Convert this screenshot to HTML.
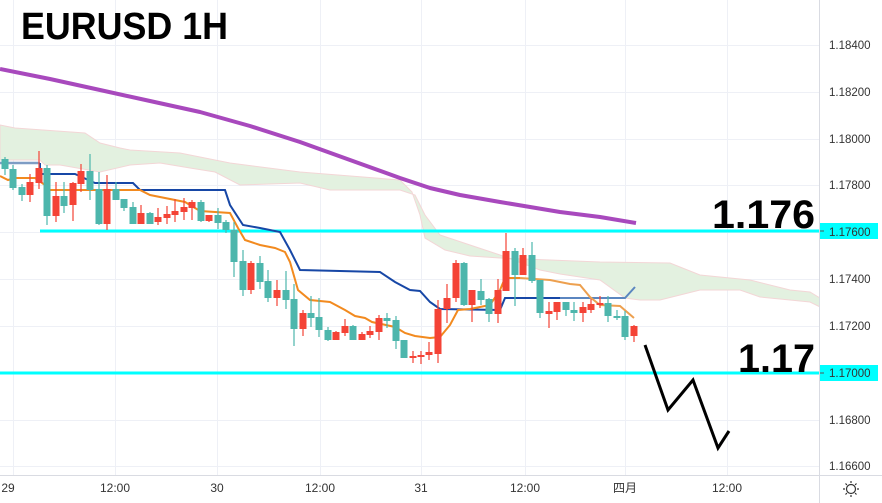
<!DOCTYPE html>
<html><head><meta charset="utf-8"><style>
html,body{margin:0;padding:0;background:#fff;width:882px;height:503px;overflow:hidden}
svg{display:block}
text{font-family:"Liberation Sans","Noto Sans CJK SC",sans-serif}
</style></head><body>
<svg id="s" width="882" height="503" viewBox="0 0 882 503" xmlns="http://www.w3.org/2000/svg">
<rect width="882" height="503" fill="#fff"/>
<g stroke="#eef0f6" stroke-width="1">
<line x1="0" y1="45.5" x2="819" y2="45.5"/><line x1="0" y1="92.5" x2="819" y2="92.5"/><line x1="0" y1="139.5" x2="819" y2="139.5"/><line x1="0" y1="185.5" x2="819" y2="185.5"/><line x1="0" y1="232.5" x2="819" y2="232.5"/><line x1="0" y1="279.5" x2="819" y2="279.5"/><line x1="0" y1="326.5" x2="819" y2="326.5"/><line x1="0" y1="373.5" x2="819" y2="373.5"/><line x1="0" y1="420.5" x2="819" y2="420.5"/><line x1="0" y1="466.5" x2="819" y2="466.5"/>
<line x1="13.5" y1="0" x2="13.5" y2="475"/><line x1="115.5" y1="0" x2="115.5" y2="475"/><line x1="217.5" y1="0" x2="217.5" y2="475"/><line x1="320.5" y1="0" x2="320.5" y2="475"/><line x1="421.5" y1="0" x2="421.5" y2="475"/><line x1="525.5" y1="0" x2="525.5" y2="475"/><line x1="625.5" y1="0" x2="625.5" y2="475"/><line x1="727.5" y1="0" x2="727.5" y2="475"/>
</g>
<polygon fill="#e3f1e0" stroke="#f3d6d6" stroke-width="1" points="0,125 15,128 85,133 100,143 120,148 130,150 180,153 200,157 230,163 300,172 400,180 412,192 420,215 425,238 445,250 470,256 500,258 550,260 600,262 670,263 700,275 750,280 790,290 810,292 820,298 820,307 810,302 790,300 760,297 740,290 700,290 660,300 640,300 625,298 600,280 560,274 540,270 500,255 470,245 440,235 425,215 415,195 400,190 330,190 300,183 240,185 215,172 190,168 160,163 130,165 100,172 60,165 45,165 40,160 0,160"/>
<polyline fill="none" stroke="#a849bd" stroke-width="4" stroke-linejoin="round" points="0,69 50,79 100,90 150,101 200,112 250,126 300,142 350,160 400,178 430,188 460,195 500,202 560,212 600,217 636,223"/>
<line x1="40" y1="231" x2="820" y2="231" stroke="#00ffff" stroke-width="3"/>
<line x1="0" y1="373" x2="820" y2="373" stroke="#00ffff" stroke-width="3"/>
<polyline fill="none" stroke="#7e9cc4" stroke-width="2.5" points="0,163 40,163"/>
<polyline fill="none" stroke="#1747a6" stroke-width="2" points="40,163 40,174 75,174 95,183 133,183 140,190 225,190 230,205 243,225 260,228 280,232 290,250 300,270 380,272 395,282 410,290 420,291 430,302 440,309 500,310 505,298 560,298"/>
<polyline fill="none" stroke="#5b86c0" stroke-width="2" points="560,298 625,298 635,287"/>
<polyline fill="none" stroke="#f28a1f" stroke-width="2" points="0,176 8,180 15,178 35,178 45,185 50,190 140,190 150,195 185,202 200,211 230,213 238,228 245,240 260,245 275,248 285,252 290,262 298,290 310,300 330,302 345,310 355,316 365,318 372,322 395,327 405,333 415,336 430,338 440,337 450,325 458,310 470,309 490,305 500,290 505,278 520,278"/>
<polyline fill="none" stroke="#eda04f" stroke-width="2" points="520,278 550,280 570,284 580,285 590,297 600,305 620,306 634,318"/>
<g id="c"></g>
<polyline fill="none" stroke="#000" stroke-width="3" stroke-linejoin="miter" points="645,345 668,410 693,380 718,448 729,431"/>
<text x="21" y="39" font-size="38" font-weight="bold" fill="#000" textLength="207" lengthAdjust="spacingAndGlyphs">EURUSD 1H</text>
<text x="712" y="228" font-size="40" font-weight="bold" fill="#000" font-family="DejaVu Sans" textLength="103" lengthAdjust="spacingAndGlyphs">1.176</text>
<text x="738" y="372" font-size="40" font-weight="bold" fill="#000" font-family="DejaVu Sans" textLength="77" lengthAdjust="spacingAndGlyphs">1.17</text>
<rect x="820" y="0" width="62" height="503" fill="#fff"/>
<line x1="819.5" y1="0" x2="819.5" y2="503" stroke="#d9dbe2"/>
<line x1="0" y1="475.5" x2="882" y2="475.5" stroke="#d9dbe2"/>
<rect x="820" y="223" width="58" height="16" fill="#00ffff"/>
<rect x="820" y="365" width="58" height="16" fill="#00ffff"/>
<g font-size="11.5" fill="#333">
<text x="829" y="49">1.18400</text><text x="829" y="96">1.18200</text><text x="829" y="143">1.18000</text><text x="829" y="189">1.17800</text><text x="829" y="236">1.17600</text><text x="829" y="283">1.17400</text><text x="829" y="330">1.17200</text><text x="829" y="377">1.17000</text><text x="829" y="424">1.16800</text><text x="829" y="470">1.16600</text>
</g>
<g stroke="#555"><line x1="820" y1="231" x2="824" y2="231"/><line x1="820" y1="373" x2="824" y2="373"/></g>
<g font-size="12" fill="#333" text-anchor="middle">
<text x="8" y="492">29</text><text x="115" y="492">12:00</text><text x="217" y="492">30</text><text x="320" y="492">12:00</text><text x="421" y="492">31</text><text x="525" y="492">12:00</text><text x="625" y="492">四月</text><text x="727" y="492">12:00</text>
</g>
<g fill="none" stroke="#333" stroke-width="1.2"><circle cx="851" cy="489" r="4.5"/>
<path d="M851 481v2M851 495v2M843 489h2M857 489h2M845.5 483.5l1.4 1.4M855.1 493.1l1.4 1.4M845.5 494.5l1.4-1.4M855.1 484.9l1.4-1.4"/></g>
</svg>
<script>
var T="#4db6ac",R="#f44336";
var d=[
[5,159,169,157,175,T],[13,169,188,165,190,T],[22,187,195,184,201,T],[30,182,195,174,202,R],[39,168,183,151,189,R],
[47,168,216,165,225,T],[56,196,216,182,222,R],[64,196,206,182,213,T],[73,183,205,182,221,R],[81,171,184,164,192,R],
[90,171,190,154,200,T],[99,189,224,172,225,T],[107,189,224,175,230,R],[116,189,200,182,200,T],[124,199,208,200,211,T],
[133,207,224,202,224,T],[141,213,224,205,224,R],[150,213,224,212,224,T],[158,217,222,208,225,R],[167,214,218,206,224,R],
[175,211,215,199,222,R],[184,207,212,198,220,R],[192,202,208,200,220,R],[201,202,221,200,222,T],[209,215,221,215,222,R],
[218,215,223,208,229,T],[226,222,230,220,233,T],[234,230,262,222,277,T],[243,261,290,250,296,T],[251,263,290,261,294,R],
[260,263,282,256,289,T],[268,281,298,270,302,T],[277,290,298,280,306,R],[286,290,300,271,309,T],[294,299,329,284,346,T],
[303,313,329,310,336,R],[311,313,318,296,327,T],[319,317,330,298,337,T],[328,330,340,327,341,T],[336,332,340,331,340,R],
[345,326,333,319,336,R],[353,326,340,325,340,T],[362,334,340,332,340,R],[370,331,335,326,338,R],[379,318,332,315,340,R],
[387,318,321,313,328,T],[396,320,341,316,349,T],[404,340,358,340,358,T],[413,356,358,351,363,R],[421,355,357,351,364,R],
[429,352,355,342,360,R],[438,309,354,300,363,R],[447,298,309,284,323,R],[456,263,298,260,302,R],[464,263,305,262,306,T],
[472,290,305,290,322,R],[481,291,300,279,305,T],[489,299,314,298,322,T],[498,290,314,279,323,R],[506,251,291,233,291,R],
[515,251,275,248,306,T],[523,255,275,248,275,R],[532,255,281,242,283,T],[540,280,313,280,318,T],[549,311,314,302,328,R],
[557,302,312,302,320,R],[566,302,310,302,316,T],[574,310,313,302,321,T],[583,307,313,302,322,R],[591,304,310,299,313,R],
[600,303,305,296,308,R],[608,303,316,296,322,T],[617,316,318,310,320,T],[625,316,337,311,340,T],[634,326,336,325,342,R]];
var g=document.getElementById("c"),h="";
d.forEach(function(c){h+='<line x1="'+c[0]+'" y1="'+c[3]+'" x2="'+c[0]+'" y2="'+c[4]+'" stroke="'+c[5]+'" stroke-width="1.2"/>';
h+='<rect x="'+(c[0]-3.5)+'" y="'+c[1]+'" width="7" height="'+Math.max(1.5,c[2]-c[1])+'" fill="'+c[5]+'"/>';});
g.innerHTML=h;
</script>
</body></html>
